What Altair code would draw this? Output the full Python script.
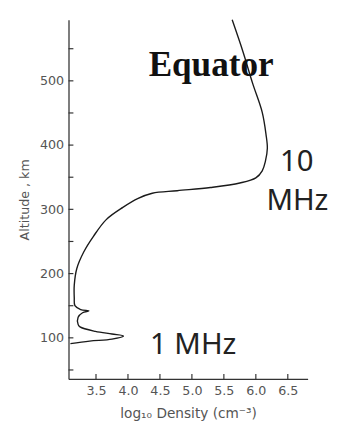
import altair as alt
import pandas as pd

# Electron density profile (log10 density, altitude km)
density = [5.63, 5.80, 5.95, 6.10, 6.16, 6.18, 6.15, 6.10, 6.00, 5.75, 5.29, 4.77, 4.38,
           4.16, 3.92, 3.66, 3.46, 3.31, 3.20, 3.16, 3.16, 3.17,
           3.26, 3.39, 3.29, 3.22, 3.22, 3.25, 3.49, 3.75, 3.93, 3.75, 3.40, 3.10]
altitude = [595, 545, 496, 451, 416, 395, 375, 360, 349, 341, 334, 329, 325,
            317, 303, 284, 258, 234, 208, 182, 162, 150,
            144, 142, 139, 132, 121, 117, 110, 106, 103, 98, 95, 91]

x_ticks = [3.5, 4.0, 4.5, 5.0, 5.5, 6.0, 6.5]
y_major = [100, 200, 300, 400, 500]
y_minor = [50, 150, 250, 350, 450, 550]

ann_text = ["Equator", "10", "MHz", "1 MHz"]
ann_x = [5.30, 6.64, 6.65, 5.02]
ann_y = [508, 360, 299, 75]

W, H = 245, 368
xs = alt.Scale(domain=[3.07, 6.81], nice=False, zero=False)
ys = alt.Scale(domain=[36, 595], nice=False, zero=False)

df = pd.DataFrame({"density": density, "altitude": altitude, "i": range(len(density))})

curve = alt.Chart(df).mark_line(color="#1a1a1a", strokeWidth=1.4,
                                interpolate="catmull-rom").encode(
    x=alt.X("density:Q", scale=xs,
            axis=alt.Axis(values=x_ticks, format=".1f", tickSize=0, labelPadding=6,
                          labelFontSize=13, labelColor="#555", labelFont="DejaVu Sans",
                          title="log₁₀ Density (cm⁻³)", titleFontSize=14, titleColor="#555",
                          titleFont="DejaVu Sans", titleFontWeight="normal", titlePadding=9,
                          domainColor="#333", domainWidth=1.3, grid=False)),
    y=alt.Y("altitude:Q", scale=ys,
            axis=alt.Axis(values=y_major, tickSize=0, labelPadding=5,
                          labelFontSize=13, labelColor="#555", labelFont="DejaVu Sans",
                          title="Altitude , km", titleFontSize=13, titleColor="#555",
                          titleFont="DejaVu Sans", titleFontWeight="normal", titlePadding=8,
                          domainColor="#333", domainWidth=1.3, grid=False)),
    order="i:Q",
)

xt = pd.DataFrame({"density": x_ticks})
x_tick_marks = alt.Chart(xt).mark_rule(color="#333", strokeWidth=1.2).encode(
    x=alt.X("density:Q", scale=xs),
    y=alt.value(H), y2=alt.value(H - 5),
)

yt = pd.DataFrame({"altitude": y_major + y_minor})
y_tick_marks = alt.Chart(yt).mark_rule(color="#333", strokeWidth=1.2).encode(
    y=alt.Y("altitude:Q", scale=ys),
    x=alt.value(0), x2=alt.value(5),
)

ann = pd.DataFrame({"t": ann_text, "density": ann_x, "altitude": ann_y})
title_txt = alt.Chart(ann[ann.t == "Equator"]).mark_text(
    font="Liberation Serif", fontWeight="bold", fontSize=36, color="#111",
    align="center", baseline="alphabetic").encode(
    x=alt.X("density:Q", scale=xs), y=alt.Y("altitude:Q", scale=ys), text="t:N")
freq_txt = alt.Chart(ann[ann.t != "Equator"]).mark_text(
    font="Noto Sans", fontSize=30, color="#222",
    align="center", baseline="alphabetic").encode(
    x=alt.X("density:Q", scale=xs), y=alt.Y("altitude:Q", scale=ys), text="t:N")

chart = alt.layer(curve, x_tick_marks, y_tick_marks, title_txt, freq_txt).properties(
    width=W, height=H,
    padding={"left": 62, "top": 7, "right": 26, "bottom": 39},
    autosize=alt.AutoSizeParams(type="none"),
    background="white",
).configure_view(stroke=None)

chart.save("out.html", embed_options={"renderer": "svg", "actions": False})
